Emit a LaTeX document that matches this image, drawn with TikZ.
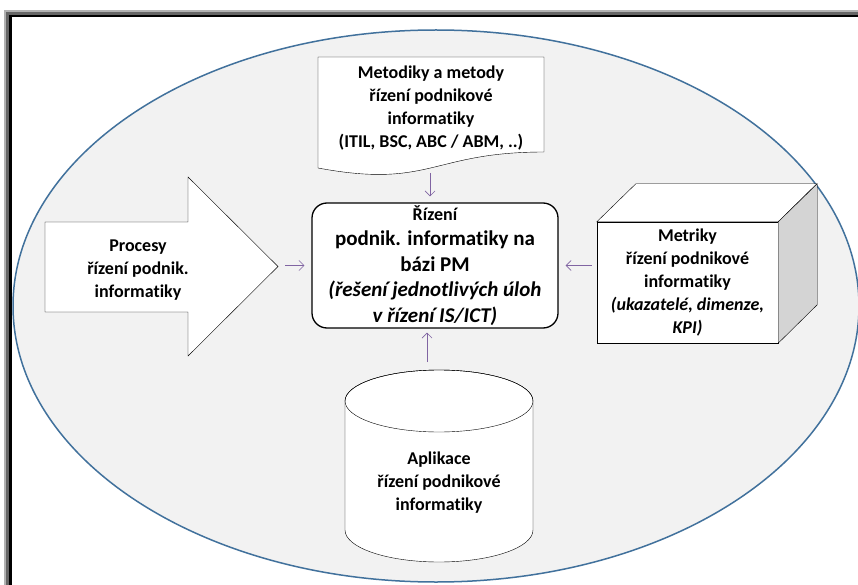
\documentclass[tikz,border=0pt]{standalone}
\usepackage{fontspec}
\setmainfont{Carlito}[Ligatures=NoCommon]
\usetikzlibrary{arrows.meta}
\definecolor{rim}{HTML}{41719C}
\definecolor{field}{HTML}{F2F2F2}
\definecolor{flow}{HTML}{8064A2}
\tikzset{
  label text/.style={align=center, inner sep=0pt, font=\bfseries\fontsize{18}{23}\selectfont},
  link/.style={draw=flow, line width=0.6pt, -{Straight Barb[length=5pt,width=10pt]}},
}
\begin{document}
\begin{tikzpicture}[x=1pt,y=-1pt]
  \useasboundingbox (0,0) rectangle (858,585);
  \clip (0,0) rectangle (858,585);
  \fill[white] (0,0) rectangle (858,585);
  \draw[black!30, line width=2pt] (5,11) rectangle (900,620);
  \draw[black!60, line width=3pt] (7.5,13.5) rectangle (900,620);
  \draw[line width=2.5pt] (10.5,16) rectangle (900,620);
  \draw[draw=rim, fill=field, line width=1.5pt] (436,306) ellipse [x radius=423, y radius=276];

  \draw[fill=white] (318,57) -- (544,57) -- (544,152) .. controls (431,152) and (431,189) .. (318,168) -- cycle;
  \node[label text] (metodiky) at (431,108) {Metodiky a metody\\řízení podnikové\\informatiky\\(ITIL, BSC, ABC / ABM, ..)};
  \coordinate (docfoot) at (430,173);

  \node[draw, fill=white, rounded corners=15pt, line width=1.3pt, minimum width=246pt, minimum height=125pt,
    align=center, inner sep=0pt, font=\bfseries\fontsize{21}{25.5}\selectfont] (rizeni) at (435,265.5)
    {{\fontsize{18}{25.5}\selectfont Řízení}\\podnik. informatiky na\\bázi PM\\\textit{(řešení jednotlivých úloh}\\\textit{v řízení IS/ICT)}};

  \draw[fill=white] (45,222) -- (188,222) -- (188,177) -- (278,266.5) -- (188,356) -- (188,312) -- (45,312) -- cycle;
  \node[label text] (procesy) at (138,270) {Procesy\\řízení podnik.\\informatiky};
  \coordinate (proctip) at (278,265.5);

  \node[label text, draw, fill=white, minimum width=181pt, minimum height=121pt] (metriky) at (687.5,282.5)
    {Metriky\\řízení podnikové\\informatiky\\\textit{(ukazatelé, dimenze,}\\\textit{KPI)}};
  \draw[fill=white] (metriky.north west) -- ++(39,-38) -- ++(181,0) -- (metriky.north east) -- cycle;
  \draw[fill=black!17] (metriky.north east) -- ++(39,-38) -- ++(0,121) -- (metriky.south east) -- cycle;

  \draw[fill=white] (345,401) -- (345,530) arc[start angle=180, end angle=0, x radius=94, y radius=32]
    -- (533,401) arc[start angle=0, end angle=-180, x radius=94, y radius=31] -- cycle;
  \draw (439,401) ellipse [x radius=94, y radius=31];
  \node[label text] (aplikace) at (439,483) {Aplikace\\řízení podnikové\\informatiky};
  \coordinate (cyltop) at (427,362);

  \begin{scope}[link]
    \draw[shorten >=6pt] (docfoot) to (docfoot |- rizeni.north);
    \draw[shorten <=7pt, shorten >=7pt] (proctip) to (rizeni.west);
    \draw[shorten <=5pt, shorten >=7pt] (metriky.west |- rizeni.east) to (rizeni.east);
    \draw[shorten >=4pt] (cyltop) to (cyltop |- rizeni.south);
  \end{scope}
\end{tikzpicture}
\end{document}
